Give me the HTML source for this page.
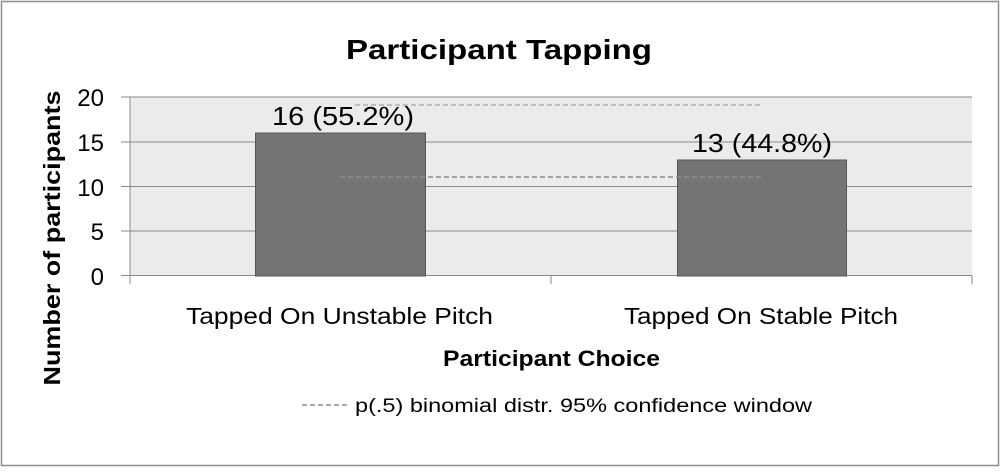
<!DOCTYPE html>
<html><head><style>
body{margin:0;background:#fff;}
</style></head><body>
<svg width="1000" height="467" xmlns="http://www.w3.org/2000/svg" font-family="Liberation Sans, sans-serif">
<rect x="1.5" y="1.5" width="997" height="464" fill="#fff" stroke="#8c8c8c" stroke-width="1.5"/>
<text x="346" y="59" font-size="28" font-weight="bold" fill="#000" textLength="306" lengthAdjust="spacingAndGlyphs">Participant Tapping</text>
<rect x="130" y="97" width="842" height="179" fill="#ebebeb"/>
<g stroke="#8a8a8a" stroke-width="1">
<line x1="121" y1="97" x2="972" y2="97"/>
<line x1="121" y1="142" x2="972" y2="142"/>
<line x1="121" y1="186.5" x2="972" y2="186.5"/>
<line x1="121" y1="231" x2="972" y2="231"/>
<line x1="121" y1="275.5" x2="972" y2="275.5"/>
<line x1="130" y1="97" x2="130" y2="284"/>
<line x1="551" y1="275.5" x2="551" y2="284"/>
<line x1="972" y1="275.5" x2="972" y2="284"/>
</g>
<rect x="255.5" y="133" width="170" height="143" fill="#747474" stroke="#555" stroke-width="1"/>
<rect x="677.5" y="160" width="169" height="116" fill="#747474" stroke="#555" stroke-width="1"/>
<line x1="355" y1="105" x2="762" y2="105" stroke="#b0b0b0" stroke-width="1.5" stroke-dasharray="5,3"/>
<line x1="340" y1="177" x2="762" y2="177" stroke="#8c8c8c" stroke-width="1.5" stroke-dasharray="5,3"/>
<text x="272" y="125" font-size="26" textLength="142" lengthAdjust="spacingAndGlyphs">16 (55.2%)</text>
<text x="692" y="152" font-size="26" textLength="140" lengthAdjust="spacingAndGlyphs">13 (44.8%)</text>
<g font-size="24" text-anchor="end">
<text x="104" y="106">20</text><text x="104" y="151">15</text><text x="104" y="196">10</text><text x="104" y="240">5</text><text x="104" y="285">0</text>
</g>
<text transform="translate(60,238) rotate(-90)" text-anchor="middle" font-size="23" font-weight="bold" textLength="295" lengthAdjust="spacingAndGlyphs">Number of participants</text>
<text x="186" y="324" font-size="23" textLength="307" lengthAdjust="spacingAndGlyphs">Tapped On Unstable Pitch</text>
<text x="624" y="324" font-size="23" textLength="274" lengthAdjust="spacingAndGlyphs">Tapped On Stable Pitch</text>
<text x="443" y="366" font-size="22" font-weight="bold" textLength="217" lengthAdjust="spacingAndGlyphs">Participant Choice</text>
<line x1="302" y1="405" x2="349" y2="405" stroke="#8c8c8c" stroke-width="1.5" stroke-dasharray="5,3"/>
<text x="355" y="412" font-size="19" textLength="457" lengthAdjust="spacingAndGlyphs">p(.5) binomial distr. 95% confidence window</text>
</svg>
</body></html>
